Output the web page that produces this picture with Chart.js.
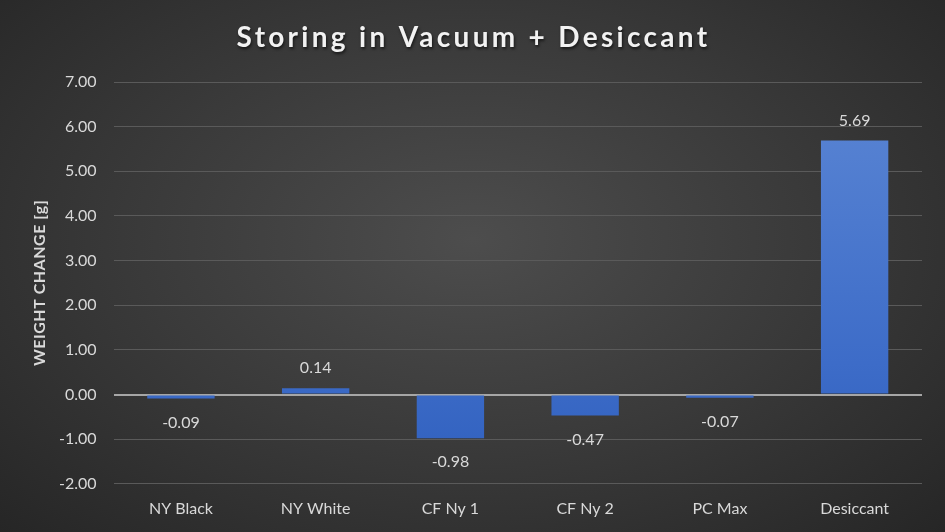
<!DOCTYPE html>
<html>
<head>
    <title>Storing in Vacuum + Desiccant</title>
    <script src="https://cdn.jsdelivr.net/npm/chart.js"></script>
    <style>
        html, body { margin: 0; padding: 0; }
        body {
            width: 945px; height: 532px; overflow: hidden;
            background: radial-gradient(ellipse at 50% 45%, #4d4d4d 0%, #3a3a3a 50%, #262626 100%);
        }
        #wrap { position: relative; width: 945px; height: 532px; }
    </style>
</head>
<body>
    <div id="wrap"><canvas id="weightChart"></canvas></div>

    <script>
        // data
        const chartTitle = 'Storing in Vacuum + Desiccant';
        const yTitle = 'WEIGHT CHANGE [g]';
        const categories = ['NY Black', 'NY White', 'CF Ny 1', 'CF Ny 2', 'PC Max', 'Desiccant'];
        const weightChange = [-0.09, 0.14, -0.98, -0.47, -0.07, 5.69];
        const yMin = -2, yMax = 7, yStep = 1;

        const fontFamily = "Lato, 'Open Sans', 'Liberation Sans', sans-serif";
        const textColor = '#d9d9d9';

        // spaced-out title with a soft shadow, plus the rotated y-axis title
        const titles = {
            id: 'titles',
            afterDraw(chart) {
                const c = chart.ctx;
                const area = chart.chartArea;
                c.save();
                c.font = 'bold 28px ' + fontFamily;
                c.letterSpacing = '3.3px';
                c.fillStyle = '#f2f2f2';
                c.textAlign = 'center';
                c.textBaseline = 'middle';
                c.shadowColor = 'rgba(0,0,0,0.6)';
                c.shadowOffsetX = 1;
                c.shadowOffsetY = 2;
                c.shadowBlur = 3;
                c.fillText(chartTitle, chart.width / 2 + 1, 38);
                c.restore();

                c.save();
                c.font = 'bold 16px ' + fontFamily;
                c.letterSpacing = '0.5px';
                c.fillStyle = textColor;
                c.textAlign = 'center';
                c.textBaseline = 'middle';
                c.translate(40, (area.top + area.bottom) / 2);
                c.rotate(-Math.PI / 2);
                c.fillText(yTitle, 0, 0);
                c.restore();
            }
        };

        // bar values printed at the end of each bar
        const valueLabels = {
            id: 'valueLabels',
            afterDatasetsDraw(chart) {
                const c = chart.ctx;
                const meta = chart.getDatasetMeta(0);
                c.save();
                c.font = '16px ' + fontFamily;
                c.fillStyle = textColor;
                c.textAlign = 'center';
                c.textBaseline = 'middle';
                meta.data.forEach((bar, i) => {
                    const v = chart.data.datasets[0].data[i];
                    const y = v >= 0 ? bar.y - 20 : bar.y + 24;
                    c.fillText(v.toFixed(2), bar.x, y);
                });
                c.restore();
            }
        };

        const ctx = document.getElementById('weightChart').getContext('2d');

        function barFill(context) {
            const area = context.chart.chartArea;
            if (!area) return '#4472c4';
            const g = context.chart.ctx.createLinearGradient(0, area.top, 0, area.bottom);
            g.addColorStop(0, '#5b86d4');
            g.addColorStop(0.7, '#3d6cc8');
            g.addColorStop(1, '#2f5fbd');
            return g;
        }

        new Chart(ctx, {
            type: 'bar',
            data: {
                labels: categories,
                datasets: [{
                    data: weightChange,
                    backgroundColor: barFill,
                    borderWidth: 0,
                    categoryPercentage: 1.0,
                    barPercentage: 0.5
                }]
            },
            options: {
                responsive: true,
                maintainAspectRatio: false,
                animation: false,
                layout: { padding: { left: 42, right: 23, top: 82, bottom: 7 } },
                plugins: {
                    legend: { display: false },
                    tooltip: { enabled: false },
                    title: { display: false }
                },
                scales: {
                    x: {
                        grid: { display: false },
                        border: { display: false },
                        ticks: { color: textColor, font: { family: fontFamily, size: 16 }, padding: 7 }
                    },
                    y: {
                        min: yMin,
                        max: yMax,
                        ticks: {
                            stepSize: yStep,
                            color: textColor,
                            font: { family: fontFamily, size: 16 },
                            padding: 17,
                            callback: v => v.toFixed(2)
                        },
                        grid: {
                            color: ctx => ctx.tick && ctx.tick.value === 0 ? '#a6a6a6' : '#5a5a5a',
                            lineWidth: ctx => ctx.tick && ctx.tick.value === 0 ? 2 : 1,
                            drawTicks: false
                        },
                        border: { display: false }
                    }
                }
            },
            plugins: [valueLabels, titles]
        });
    </script>
</body>
</html>
